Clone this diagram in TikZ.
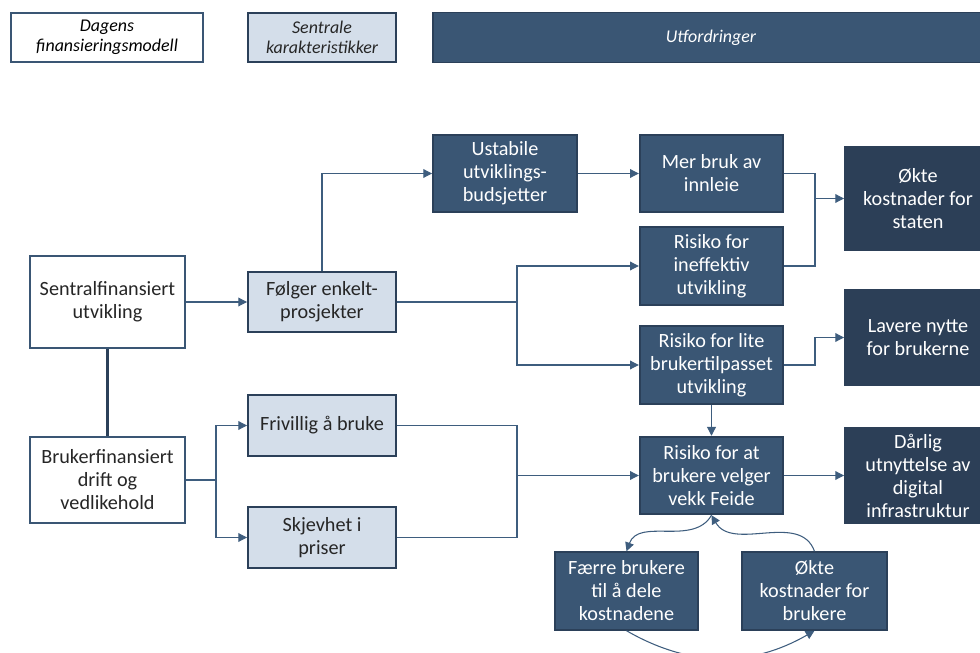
\documentclass[tikz,border=0pt]{standalone}
\usepackage{fontspec}
\setmainfont{Carlito}
\usetikzlibrary{arrows.meta}

\definecolor{navy}{HTML}{3A5674}
\definecolor{navydark}{HTML}{2C3F57}
\definecolor{navyline}{HTML}{2B4059}
\definecolor{paleblue}{HTML}{D4DEEA}
\definecolor{linkcol}{HTML}{3E5D7E}

\begin{document}
\begin{tikzpicture}[
    base/.style={rectangle, draw=navyline, line width=1.1pt, align=center, inner sep=2pt, font=\fontsize{11.5}{13.1}\selectfont},
    origin/.style={base, fill=white, draw=navy, text=black!85, minimum width=3.1cm},
    trait/.style={base, fill=paleblue, text=black!85, minimum width=2.96cm, minimum height=1.22cm},
    issue/.style={base, fill=navy, text=white, minimum width=2.87cm, minimum height=1.55cm},
    effect/.style={base, fill=navydark, draw=navydark, text=white, minimum width=2.92cm},
    legend/.style={base, minimum height=0.98cm, font=\itshape\fontsize{10.2}{11.4}\selectfont},
    link/.style={draw=linkcol, line width=0.6pt, -{Triangle[length=5pt,width=5pt]}},
    plain/.style={draw=linkcol, line width=0.6pt}
]
\useasboundingbox (0,0) rectangle (19.6,-13.06);

% Top: legend
\node[legend, fill=white, draw=navy, text=black, minimum width=3.84cm] (legorigin) at (2.14,-0.75) {Dagens\\finansieringsmodell};
\node[legend, fill=paleblue, text=black!85, minimum width=2.96cm] (legtrait) at (6.44,-0.75) {Sentrale\\karakteristikker};
\node[legend, fill=navy, text=white, minimum width=11.12cm, minimum height=1.0cm] (legissue) at (14.22,-0.75) {Utfordringer};

% Left: financing model
\node[origin, minimum height=1.84cm] (sentral) at (2.15,-6.04) {Sentralfinansiert\\utvikling};
\node[origin, minimum height=1.72cm] (bruker) at (2.15,-9.6) {Brukerfinansiert\\drift og\\vedlikehold};

% Middle: characteristics
\node[trait, minimum height=1.2cm] (folger) at (6.44,-6.04) {Følger enkelt-\\prosjekter};
\node[trait] (frivillig) at (6.44,-8.51) {Frivillig å bruke};
\node[trait] (skjevhet) at (6.44,-10.75) {Skjevhet i\\priser};

% Challenges
\node[issue, minimum width=2.88cm] (ustabile) at (10.1,-3.47) {Ustabile\\utviklings-\\budsjetter};
\node[issue] (merbruk) at (14.23,-3.47) {Mer bruk av\\innleie};
\node[issue] (ineffektiv) at (14.23,-5.32) {Risiko for\\ineffektiv\\utvikling};
\node[issue] (lite) at (14.23,-7.3) {Risiko for lite\\brukertilpasset\\utvikling};
\node[issue] (feide) at (14.23,-9.51) {Risiko for at\\brukere velger\\vekk Feide};
\node[issue] (faerre) at (12.53,-11.82) {Færre brukere\\til å dele\\kostnadene};
\node[issue, minimum width=2.9cm] (oktebruk) at (16.29,-11.82) {Økte\\kostnader for\\brukere};

% Right: consequences
\node[effect, minimum height=2.06cm] (staten) at (18.36,-3.97) {Økte\\kostnader for\\staten};
\node[effect, minimum height=1.9cm] (lavere) at (18.36,-6.75) {Lavere nytte\\for brukerne};
\node[effect, minimum height=1.9cm] (darlig) at (18.36,-9.51) {Dårlig\\utnyttelse av\\digital\\infrastruktur};

% Junction points
\coordinate (splitA) at (10.34,-6.04);
\coordinate (splitB) at (4.32,-9.6);
\coordinate (joinB) at (10.34,-9.51);
\coordinate (joinA) at (16.3,-3.97);
\coordinate (joinC) at (16.3,-6.75);

% Arrows
\draw[navyline, line width=1.6pt] (sentral) -- (bruker);
\draw[link] (sentral) -- (folger);
\draw[link] (folger.north) |- (ustabile.west);
\draw[link] (ustabile) -- (merbruk);

\draw[plain] (folger.east) -- (splitA);
\draw[link] (splitA) |- (ineffektiv.west);
\draw[link] (splitA) |- (lite.west);

\draw[plain] (merbruk.east) -| (joinA);
\draw[plain] (ineffektiv.east) -| (joinA);
\draw[link] (joinA) -- (staten);

\draw[plain] (lite.east) -| (joinC);
\draw[link] (joinC) -- (lavere);
\draw[link] (lite) -- (feide);

\draw[plain] (bruker.east) -- (splitB);
\draw[link] (splitB) |- (frivillig.west);
\draw[link] (splitB) |- (skjevhet.west);

\draw[plain] (frivillig.east) -| (joinB);
\draw[plain] (skjevhet.east) -| (joinB);
\draw[link] (joinB) -- (feide);
\draw[link] (feide) -- (darlig);

% Feedback loop
\draw[link] (feide.south) to[out=-120, in=70] (faerre.north);
\draw[link] (oktebruk.north) to[out=110, in=-60] (feide.south);
\draw[link] (faerre.south) to[out=-30, in=-150] (oktebruk.south);

\end{tikzpicture}
\end{document}
